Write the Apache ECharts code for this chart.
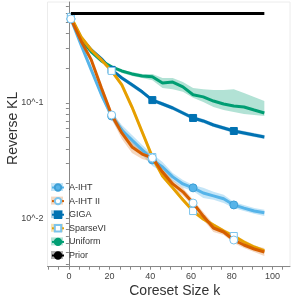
<!DOCTYPE html>
<html><head><meta charset="utf-8">
<script src="https://cdn.jsdelivr.net/npm/echarts@6/dist/echarts.min.js"></script>
<style>html,body{margin:0;padding:0;background:#fff}#c{width:299px;height:299px}</style>
</head><body><div id="c"></div>
<script>
// Coreset sizes (x)
const ks = [1,6,11,16,21,26,31,36,41,46,51,56,61,66,71,76,81,86,91,96];
const markerKs = [1,21,41,61,81];
const xTickLabels = [0,20,40,60,80,100];
const xMinorTicks = [-10,-5,0,5,10,15,20,25,30,35,40,45,50,55,60,65,70,75,80,85,90,95,100,105];
const yTickLabels = [0.01, 0.1];
const yTicks = [0.004,0.005,0.006,0.007,0.008,0.009,0.01,0.02,0.03,0.04,0.05,0.06,0.07,0.08,0.09,0.1,0.2,0.3,0.4,0.5,0.6,0.7];

// Reverse KL values
const aiht   = [0.538,0.320,0.194,0.118,0.0771,0.0583,0.0477,0.0391,0.0320,0.0278,0.0228,0.0198,0.0183,0.0165,0.0156,0.0147,0.0130,0.0122,0.0115,0.0111];
const aihtHi = [0.549,0.333,0.202,0.125,0.0835,0.0644,0.0527,0.0432,0.0360,0.0307,0.0246,0.0214,0.0194,0.0183,0.0169,0.0159,0.0138,0.0130,0.0122,0.0118];
const aihtLo = [0.527,0.307,0.186,0.111,0.0712,0.0527,0.0432,0.0353,0.0284,0.0251,0.0210,0.0183,0.0172,0.0149,0.0144,0.0135,0.0122,0.0115,0.0109,0.0104];

const aiht2   = [0.538,0.346,0.237,0.135,0.0787,0.0549,0.0415,0.0360,0.0333,0.0251,0.0198,0.0169,0.0135,0.0104,0.00819,0.00756,0.00644,0.00583,0.00538,0.00507];
const aiht2Hi = [0.549,0.360,0.246,0.144,0.0852,0.0619,0.0468,0.0398,0.0360,0.0272,0.0214,0.0183,0.0144,0.0113,0.00887,0.00803,0.00684,0.00619,0.00571,0.00549];
const aiht2Lo = [0.527,0.333,0.228,0.127,0.0726,0.0487,0.0368,0.0326,0.0307,0.0232,0.0183,0.0156,0.0127,0.00961,0.00756,0.00712,0.00607,0.00549,0.00507,0.00468];

const giga   = [0.549,0.368,0.289,0.242,0.194,0.165,0.144,0.125,0.106,0.0980,0.0905,0.0819,0.0741,0.0698,0.0644,0.0607,0.0571,0.0549,0.0527,0.0507];
const gigaHi = [0.560,0.383,0.301,0.252,0.202,0.172,0.150,0.130,0.110,0.102,0.0942,0.0853,0.0771,0.0727,0.0670,0.0632,0.0594,0.0572,0.0549,0.0528];
const gigaLo = [0.538,0.354,0.278,0.233,0.186,0.159,0.138,0.120,0.102,0.0942,0.0870,0.0787,0.0712,0.0671,0.0619,0.0583,0.0549,0.0528,0.0506,0.0487];

const svi   = [0.560,0.375,0.289,0.237,0.190,0.144,0.0923,0.0560,0.0339,0.0232,0.0183,0.0144,0.0115,0.00980,0.00869,0.00771,0.00698,0.00619,0.00560,0.00517];
const sviHi = [0.571,0.383,0.295,0.242,0.198,0.150,0.0980,0.0595,0.0360,0.0242,0.0190,0.0150,0.0120,0.0102,0.00905,0.00803,0.00727,0.00644,0.00583,0.00538];
const sviLo = [0.549,0.368,0.283,0.232,0.183,0.138,0.0869,0.0527,0.0319,0.0223,0.0176,0.0138,0.0110,0.00942,0.00835,0.00741,0.00671,0.00595,0.00538,0.00497];

const unif   = [0.549,0.360,0.278,0.232,0.206,0.190,0.179,0.172,0.169,0.149,0.152,0.138,0.118,0.113,0.104,0.0980,0.0942,0.0923,0.0869,0.0819];
const unifHi = [0.560,0.367,0.283,0.237,0.210,0.194,0.186,0.179,0.179,0.165,0.165,0.152,0.135,0.132,0.130,0.130,0.132,0.122,0.113,0.104];
const unifLo = [0.538,0.353,0.272,0.227,0.198,0.182,0.172,0.165,0.158,0.135,0.132,0.125,0.111,0.102,0.0923,0.0869,0.0835,0.0802,0.0786,0.0771];

const prior = [0.6,0.6,0.6,0.6,0.6,0.6,0.6,0.6,0.6,0.6,0.6,0.6,0.6,0.6,0.6,0.6,0.6,0.6,0.6,0.6];

const names = ['A-IHT','A-IHT II','GIGA','SparseVI','Uniform','Prior'];
const L = Math.log10;

function band(name, lo, hi, color) {
  return {type:'custom', name:name, silent:true, z:1, clip:true,
    data: ks.map((k,i)=>[k, L(lo[i]), L(hi[i])]),
    encode:{x:0, y:[1,2]},
    renderItem: function(params, api) {
      if (params.dataIndex !== 0) return null;
      const top = ks.map((k,i)=>api.coord([k, L(hi[i])]));
      const bot = ks.map((k,i)=>api.coord([k, L(lo[i])])).reverse();
      return {type:'polygon', shape:{points: top.concat(bot)}, style:{fill:color}, silent:true};
    }
  };
}
function line(name, vals, color, symbol, fill, border, size, z) {
  return {type:'line', name:name, z:z,
    data: ks.map((k,i)=>({value:[k, L(vals[i])], symbol: (symbol && markerKs.includes(k)) ? symbol : 'none'})),
    symbol: symbol || 'none', symbolSize: size || 7, showAllSymbol:true,
    lineStyle:{color:color, width:3},
    itemStyle:{color: fill || color, borderColor: border || color, borderWidth:1},
    emphasis:{disabled:true}
  };
}

const cBlueL = '#56B4E9', cOrange = '#D55E00', cBlue = '#0072B2', cYellow = '#E69F00', cGreen = '#009E73';
const markerEdge = '#7cc4ec';
const bandCols = ['rgba(86,180,233,0.35)','rgba(213,94,0,0.25)','rgba(0,114,178,0.3)','rgba(230,159,0,0.3)','rgba(0,158,115,0.3)','rgba(0,0,0,0.3)'];

const series = [
  band('b1', aihtLo, aihtHi, bandCols[0]),
  band('b2', aiht2Lo, aiht2Hi, bandCols[1]),
  band('b3', gigaLo, gigaHi, bandCols[2]),
  band('b4', sviLo, sviHi, bandCols[3]),
  band('b5', unifLo, unifHi, bandCols[4]),
  line('GIGA', giga, cBlue, 'rect', cBlue, cBlue, 7, 3),
  line('Uniform', unif, cGreen, null, null, null, 7, 3),
  line('A-IHT', aiht, cBlueL, 'circle', cBlueL, '#3d9fd6', 8, 4),
  line('SparseVI', svi, cYellow, 'rect', '#ffffff', markerEdge, 7, 5),
  line('A-IHT II', aiht2, cOrange, 'circle', '#ffffff', markerEdge, 8, 6),
  line('Prior', prior, '#000000', null, null, null, 7, 7)
];

const legTop = 183, legStep = 13.6;
const graphic = bandCols.map((c,i)=>({type:'rect', left:51, top:legTop + i*legStep, z:0, silent:true,
  shape:{width:12, height:8}, style:{fill:c}}));

const chart = echarts.init(document.getElementById('c'), null, {renderer:'canvas'});
const font = 'Liberation Sans, Arial, Helvetica, sans-serif';
chart.setOption({
  animation:false,
  backgroundColor:'#ffffff',
  textStyle:{fontFamily:font},
  grid:{left:47.5, right:9, top:2, bottom:32.3, show:true, borderColor:'#ececec', borderWidth:1, backgroundColor:'transparent',
    containLabel:false, outerBoundsMode:'none'},
  xAxis:{type:'value', min:-10.5, max:108.6,
    name:'Coreset Size k', nameLocation:'middle', nameGap:17, nameMoveOverlap:false,
    nameTextStyle:{fontSize:14, color:'#333', fontFamily:font, padding:[0,0,0,12]},
    axisLine:{show:true, lineStyle:{color:'#888', width:1}},
    axisTick:{show:true, length:3, lineStyle:{color:'#888'}, customValues:xMinorTicks},
    axisLabel:{fontSize:9, color:'#444', margin:5, customValues:xTickLabels, fontFamily:font, hideOverlap:false},
    splitLine:{show:false}},
  yAxis:{type:'value', min:-2.423, max:-0.122,
    name:'Reverse KL', nameLocation:'middle', nameGap:27, nameMoveOverlap:false,
    nameTextStyle:{fontSize:14, color:'#333', fontFamily:font, padding:[0,0,0,12]},
    axisLine:{show:true, lineStyle:{color:'#888', width:1}},
    axisTick:{show:true, length:3, lineStyle:{color:'#888'}, customValues:yTicks.map(L)},
    axisLabel:{fontSize:9, color:'#444', margin:4, customValues:yTickLabels.map(L), fontFamily:font,
      formatter:(v)=>'10^' + Math.round(v)},
    splitLine:{show:false}},
  legend:{data:names, orient:'vertical', left:51, top:legTop, padding:0, itemGap:4.6, itemWidth:12, itemHeight:8,
    textStyle:{fontSize:9, color:'#333', fontFamily:font}},
  graphic:graphic,
  series:series
});
</script></body></html>
